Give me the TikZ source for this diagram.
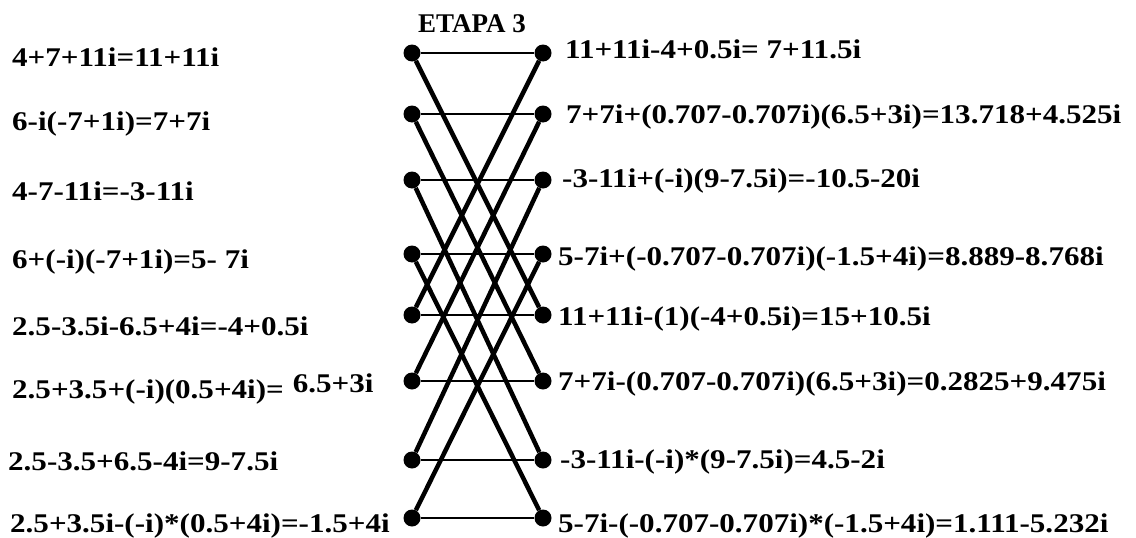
\documentclass[tikz,border=0pt]{standalone}
\usepackage{fontspec}
\setmainfont{Liberation Serif}
\newfontfamily\eqfont{Liberation Serif}[FakeStretch=1.15]
\begin{document}
\begin{tikzpicture}[x=1pt, y=-1pt]
			\tikzset{
				dot/.style={circle, fill=black, inner sep=0, minimum size=17pt},
				eq/.style={anchor=base west, inner sep=0, font=\eqfont\bfseries\fontsize{27}{30}\selectfont},
				flat link/.style={line width=1.6pt},
				cross link/.style={line width=4.5pt},
			}
			\useasboundingbox (0,0) rectangle (1136,538);
			\node[anchor=base west, inner sep=0, font=\bfseries\fontsize{27}{30}\selectfont] (title) at (418,32) {ETAPA 3};
			\foreach \i/\y in {0/53,1/114,2/180,3/254,4/315,5/381,6/460,7/518}
				{
					\node[dot] (l\i) at (412,\y) {};
					\node[dot] (r\i) at (543,\y) {};
				}
			\foreach \i in {0,...,7}
				{
					\draw[flat link] (l\i) -- (r\i);
				}
			\foreach \i in {0,...,3}
				{
					\pgfmathtruncatemacro{\j}{\i+4}
					\draw[cross link] (l\i) -- (r\j);
					\draw[cross link] (l\j) -- (r\i);
				}
			% left column
			\node[eq] (a0) at (12,66) {4+7+11i=11+11i};
			\node[eq] (a1) at (12,130) {6-i(-7+1i)=7+7i};
			\node[eq] (a2) at (12,200) {4-7-11i=-3-11i};
			\node[eq] (a3) at (12,268) {6+(-i)(-7+1i)=5- 7i};
			\node[eq] (a4) at (12,335) {2.5-3.5i-6.5+4i=-4+0.5i};
			\node[eq] (a5) at (12,398) {2.5+3.5+(-i)(0.5+4i)=\hspace{9pt}\raisebox{6pt}{6.5+3i}};
			\node[eq] (a6) at (8,470) {2.5-3.5+6.5-4i=9-7.5i};
			\node[eq] (a7) at (10,532) {2.5+3.5i-(-i)*(0.5+4i)=-1.5+4i};
			% right column
			\node[eq] (b0) at (565,58) {11+11i-4+0.5i= 7+11.5i};
			\node[eq] (b1) at (566,123) {7+7i+(0.707-0.707i)(6.5+3i)=13.718+4.525i};
			\node[eq] (b2) at (562,187) {-3-11i+(-i)(9-7.5i)=-10.5-20i};
			\node[eq] (b3) at (558,265) {5-7i+(-0.707-0.707i)(-1.5+4i)=8.889-8.768i};
			\node[eq] (b4) at (558,325) {11+11i-(1)(-4+0.5i)=15+10.5i};
			\node[eq] (b5) at (558,390) {7+7i-(0.707-0.707i)(6.5+3i)=0.2825+9.475i};
			\node[eq] (b6) at (560,468) {-3-11i-(-i)*(9-7.5i)=4.5-2i};
			\node[eq] (b7) at (558,532) {5-7i-(-0.707-0.707i)*(-1.5+4i)=1.111-5.232i};
		\end{tikzpicture}
\end{document}
